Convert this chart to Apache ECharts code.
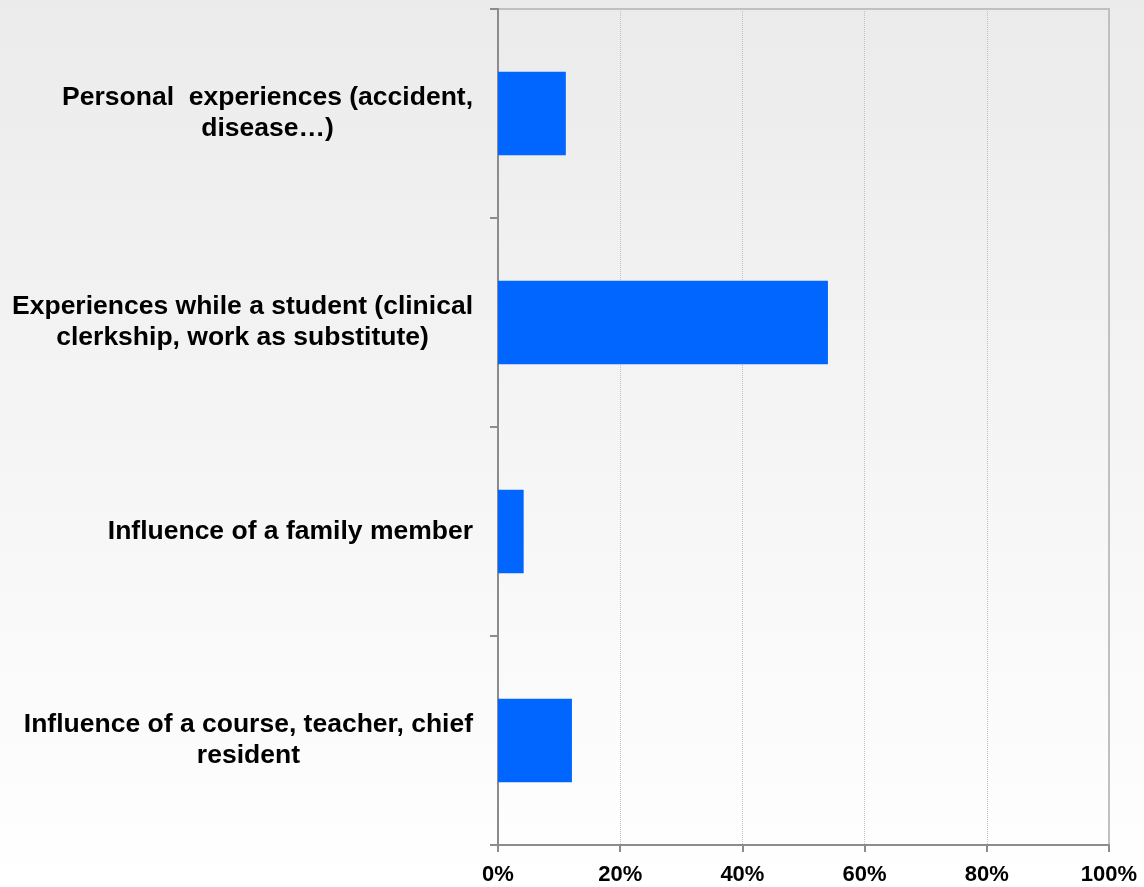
<!DOCTYPE html>
<html lang="en">
<head>
    <meta charset="UTF-8">
    <title>Reasons for choice</title>
    <script src="https://cdn.jsdelivr.net/npm/echarts@6/dist/echarts.min.js"></script>
    <style>
        html, body { margin: 0; padding: 0; }
        #chart { width: 1144px; height: 887px; }
    </style>
</head>
<body>
<div id="chart"></div>
<script>
    // categories, top to bottom
    var categories = [
        'Personal  experiences (accident,\ndisease…)',
        'Experiences while a student (clinical\nclerkship, work as substitute)',
        'Influence of a family member',
        'Influence of a course, teacher, chief\nresident'
    ];
    // share of answers, in %
    var values = [11.1, 54.0, 4.2, 12.1];
    var xTicks = [0, 20, 40, 60, 80, 100];

    var myChart = echarts.init(document.getElementById('chart'));
    var option = {
        backgroundColor: new echarts.graphic.LinearGradient(0, 0, 0, 1, [
            { offset: 0, color: '#ebebeb' },
            { offset: 1, color: '#ffffff' }
        ]),
        animation: false,
        grid: {
            left: 498,
            right: 35,
            top: 9,
            bottom: 42,
            show: true,
            borderColor: '#c0c0c0',
            borderWidth: 2,
            backgroundColor: 'transparent'
        },
        xAxis: {
            type: 'value',
            min: xTicks[0],
            max: xTicks[xTicks.length - 1],
            interval: 20,
            axisLine: { show: true, lineStyle: { color: '#8c8c8c', width: 2 } },
            axisTick: { show: true, length: 7, lineStyle: { color: '#8c8c8c', width: 2 } },
            axisLabel: {
                formatter: '{value}%',
                fontFamily: 'Liberation Sans, Arial, sans-serif',
                fontWeight: 'bold',
                fontSize: 22,
                color: '#000',
                margin: 19
            },
            splitLine: { show: true, lineStyle: { color: '#c0c0c0', type: 'dotted', width: 1 } }
        },
        yAxis: {
            type: 'category',
            inverse: true,
            data: categories,
            axisLine: { show: true, lineStyle: { color: '#8c8c8c', width: 2 } },
            axisTick: { show: true, length: 8, lineStyle: { color: '#8c8c8c', width: 2 } },
            axisLabel: {
                margin: 25,
                formatter: function (v) {
                    return v.split('\n').map(function (l) { return '{c|' + l + '}'; }).join('\n');
                },
                rich: {
                    c: {
                        fontFamily: 'Liberation Sans, Arial, sans-serif',
                        fontWeight: 'bold',
                        fontSize: 26.5,
                        lineHeight: 31,
                        color: '#000',
                        align: 'center'
                    }
                }
            },
            splitLine: { show: false }
        },
        series: [{
            type: 'bar',
            data: values,
            barWidth: '40%',
            itemStyle: { color: '#0066ff' }
        }]
    };
    myChart.setOption(option);
</script>
</body>
</html>
